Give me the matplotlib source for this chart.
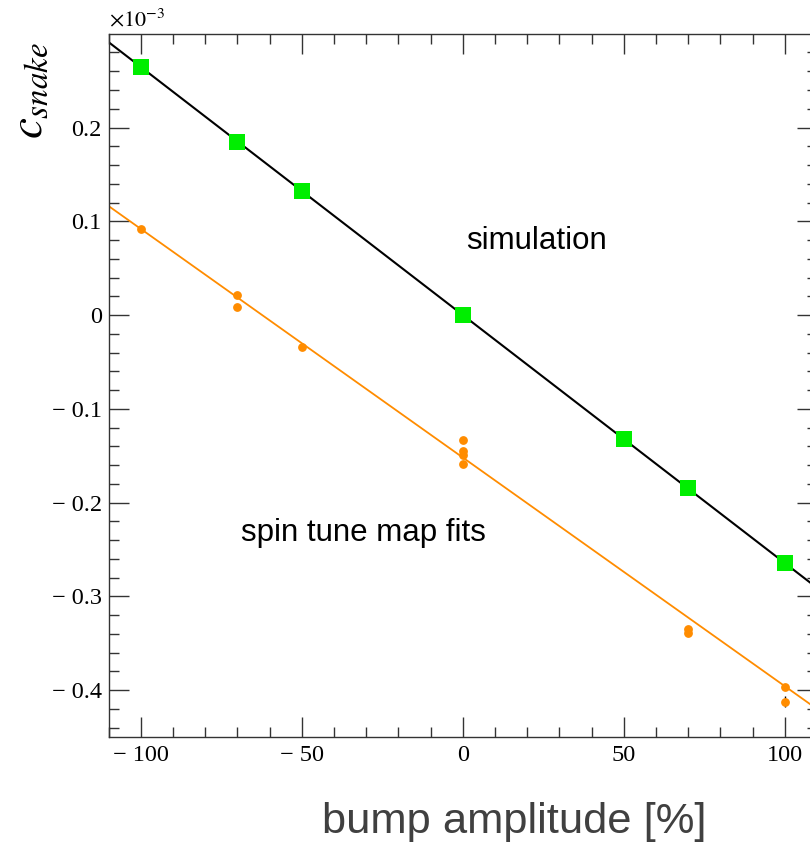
import numpy as np
import matplotlib
matplotlib.use("Agg")
import matplotlib.pyplot as plt
from matplotlib.ticker import MultipleLocator, FuncFormatter

# ---- data (y values in units of 1e-3) ----
sim_x = [-100, -70, -50, 0, 50, 70, 100]
sim_y = [0.2645, 0.1846, 0.1323, 0.0, -0.1323, -0.1846, -0.2645]

fit_x = [-100, -70, -70, -50, 0, 0, 0, 0, 70, 70, 100, 100]
fit_y = [0.0921, 0.0219, 0.0083, -0.0344, -0.133, -0.145, -0.149, -0.159,
         -0.3346, -0.3395, -0.397, -0.4122]
fit_err = [0.002, 0.002, 0.002, 0.002, 0.002, 0.002, 0.002, 0.002,
           0.002, 0.002, 0.002, 0.006]

sim_line = {"slope": -0.002645, "intercept": 0.0}
meas_line = {"slope": -0.002438, "intercept": -0.152}

x_range = [-110, 110]
y_range = [-0.45, 0.2994]

W, H = 810, 842
fig = plt.figure(figsize=(W / 100, H / 100), dpi=100)
left, right, top, bottom = 108.7, 817, 34.3, 737
ax = fig.add_axes([left / W, 1 - bottom / H, (right - left) / W, (bottom - top) / H])

lx = np.array(x_range, dtype=float)
ax.plot(lx, sim_line["slope"] * lx + sim_line["intercept"], color="black", lw=1.5, zorder=2)
ax.plot(lx, meas_line["slope"] * lx + meas_line["intercept"], color="#ff8c00", lw=1.3, zorder=2)

ax.plot(sim_x, sim_y, linestyle="none", marker="s", ms=11.5, color="#00ee00",
        markeredgewidth=0, zorder=3)
ax.errorbar(fit_x, fit_y, yerr=fit_err, fmt="o", ms=5.3, color="#ff8c00",
            ecolor="black", elinewidth=1, capsize=0, zorder=4)

ax.set_xlim(*x_range)
ax.set_ylim(*y_range)

serif = ["Liberation Serif", "DejaVu Serif"]

def fmt(v, _pos):
    s = ("%g" % round(abs(v), 6))
    return ("\u2212 " + s) if v < -1e-9 else s

ax.xaxis.set_major_locator(MultipleLocator(50))
ax.xaxis.set_minor_locator(MultipleLocator(10))
ax.yaxis.set_major_locator(MultipleLocator(0.1))
ax.yaxis.set_minor_locator(MultipleLocator(0.02))
ax.xaxis.set_major_formatter(FuncFormatter(fmt))
ax.yaxis.set_major_formatter(FuncFormatter(fmt))

tc = "#333333"
ax.tick_params(which="both", direction="in", top=True, right=True, color=tc, width=1)
ax.tick_params(which="major", length=14.5)
ax.tick_params(which="minor", length=7.5)
ax.tick_params(axis="x", which="major", pad=6)
ax.tick_params(axis="y", which="major", pad=5)
for lab in ax.get_xticklabels() + ax.get_yticklabels():
    lab.set_fontfamily(serif)
    lab.set_fontsize(17.5)
for sp in ax.spines.values():
    sp.set_color(tc)
    sp.set_linewidth(1)

sans = ["Liberation Sans", "DejaVu Sans"]
ax.text(23, 0.079, "simulation", fontsize=22.5, family=sans, ha="center", va="center")
ax.text(-31, -0.232, "spin tune map fits", fontsize=22.5, family=sans,
        ha="center", va="center")

fig.text(left / W, 1 - 19 / H, r"$\times10^{-3}$", fontsize=16,
         ha="left", va="center", math_fontfamily="stix")
fig.text(29 / W, 1 - 90 / H, r"$c_{snake}$", fontsize=34, rotation=90,
         ha="center", va="center", math_fontfamily="stix")

fig.text(514 / W, 1 - 822 / H, "bump amplitude [%]", fontsize=31.3, color="#404040",
         family=sans, ha="center", va="center")

fig.savefig("out.png", dpi=100)
